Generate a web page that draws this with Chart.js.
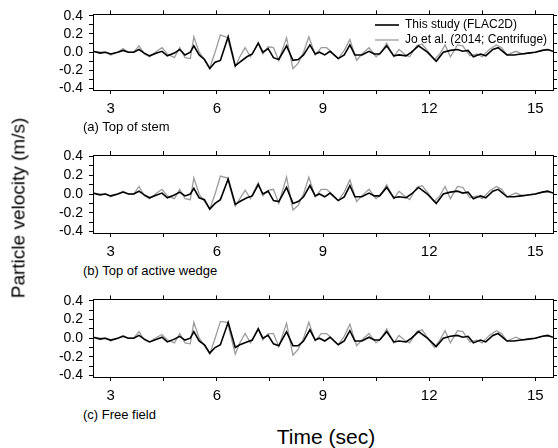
<!DOCTYPE html>
<html><head><meta charset="utf-8">
<script src="https://cdn.jsdelivr.net/npm/chart.js@4.4.0/dist/chart.umd.min.js"></script>
<style>
html,body{margin:0;padding:0;background:#fff;}
#wrap{position:relative;width:558px;height:448px;overflow:hidden;font-family:"Liberation Sans",Arial,sans-serif;color:#000;}
canvas{position:absolute;left:0;}
.lbl{position:absolute;white-space:nowrap;line-height:1;}
</style></head><body>
<div id="wrap">
<canvas id="cA" width="558" height="120" style="top:0px;width:558px;height:120px"></canvas>
<canvas id="cB" width="558" height="120" style="top:140px;width:558px;height:120px"></canvas>
<canvas id="cC" width="558" height="120" style="top:285px;width:558px;height:120px"></canvas>
<div class="lbl" style="left:83px;top:120px;font-size:13px">(a) Top of stem</div>
<div class="lbl" style="left:83px;top:264px;font-size:13px">(b) Top of active wedge</div>
<div class="lbl" style="left:83px;top:408px;font-size:13px">(c) Free field</div>
<div class="lbl" style="left:326px;top:436px;font-size:21px;transform:translate(-50%,-50%)">Time (sec)</div>
<div class="lbl" style="left:18px;top:208px;font-size:19px;transform:translate(-50%,-50%) rotate(-90deg)">Particle velocity (m/s)</div>
</div>
<script>
// ---- data ----
const seriesNames = ["This study (FLAC2D)", "Jo et al. (2014; Centrifuge)"];
const panelTitles = ["(a) Top of stem", "(b) Top of active wedge", "(c) Free field"];
const xTickVals = [3, 4.5, 6, 7.5, 9, 10.5, 12, 13.5, 15];
const xLabelVals = [3, 6, 9, 12, 15];
const yTickVals = [-0.4, -0.3, -0.2, -0.1, 0, 0.1, 0.2, 0.3, 0.4];
const yLabelVals = [-0.4, -0.2, 0, 0.2, 0.4];

const timeFlac = [2.5,2.7,2.85,3.0,3.2,3.35,3.5,3.65,3.8,3.95,4.1,4.3,4.45,4.6,4.8,4.95,5.1,5.25,5.35,5.5,5.65,5.8,5.95,6.1,6.32,6.52,6.65,6.85,7.0,7.17,7.3,7.45,7.6,7.75,7.97,8.15,8.3,8.45,8.63,8.78,8.9,9.05,9.2,9.43,9.6,9.76,9.9,10.1,10.3,10.45,10.6,10.8,11.0,11.15,11.35,11.5,11.7,11.95,12.2,12.4,12.6,12.8,12.95,13.1,13.25,13.45,13.6,13.8,13.95,14.2,14.4,14.6,14.8,15.0,15.2,15.35,15.5];
const timeJo = [2.5,2.7,2.85,3.0,3.2,3.35,3.5,3.65,3.8,3.95,4.1,4.3,4.45,4.6,4.8,4.95,5.1,5.25,5.35,5.5,5.65,5.8,5.95,6.1,6.3,6.52,6.65,6.8,6.95,7.17,7.3,7.45,7.6,7.75,7.97,8.15,8.3,8.45,8.6,8.78,8.95,9.1,9.25,9.43,9.6,9.76,9.95,10.1,10.3,10.5,10.65,10.8,11.0,11.15,11.3,11.45,11.65,11.8,12.15,12.3,12.45,12.6,12.8,12.95,13.15,13.35,13.5,13.7,13.9,14.05,14.2,14.45,14.65,14.8,15.0,15.2,15.4];

const flacA = [0.01,-0.01,0.0,-0.02,0.0, 0.02,0.0,0.0,0.03,-0.01, -0.04,-0.01,0.01,-0.04,-0.01, 0.03,-0.03,0.0,0.07,-0.03, -0.08,-0.18,-0.11,-0.09,0.17, -0.15,-0.11,-0.05,-0.02,0.10, 0.0,0.04,-0.06,-0.08,0.07, -0.09,-0.08,-0.03,0.08,-0.02, 0.0,-0.03,0.01,-0.07,-0.03, 0.08,-0.03,-0.03,0.01,-0.02, -0.02,0.07,-0.04,-0.03,-0.04, 0.0,0.07,0.0,-0.10,0.0, 0.02,0.03,0.01,0.02,-0.05, -0.02,-0.04,0.03,0.05,-0.03, -0.03,-0.02,-0.01,0.0,0.02, 0.03,0.01];
const joA = [0.01,0.0,0.0,-0.03,0.0, 0.04,0.0,0.0,0.07,-0.02, -0.05,0.01,0.05,-0.02,-0.06, 0.05,-0.06,-0.07,0.17,0.0, -0.08,-0.17,0.0,0.19,0.16, -0.16,-0.05,0.05,-0.05,0.10, -0.02,0.06,0.05,-0.09,0.16, -0.18,-0.12,0.0,0.17,-0.03, 0.05,0.05,0.0,-0.07,0.02, 0.14,-0.09,-0.02,0.05,-0.05, 0.0,0.10,-0.05,0.03,-0.02, -0.05,0.07,0.09,-0.08,-0.02, 0.08,-0.05,0.08,0.07,-0.04, -0.02,-0.05,0.03,0.08,0.05, -0.03,0.01,-0.02,-0.01,0.0, 0.02,0.02];

const flacB = [0.01,-0.01,0.0,-0.02,0.0, 0.02,0.0,0.0,0.03,-0.01, -0.04,-0.01,0.01,-0.04,-0.01, 0.02,-0.02,0.0,0.06,-0.04, -0.06,-0.16,-0.10,-0.06,0.16, -0.11,-0.08,-0.04,-0.02,0.10, 0.0,0.03,-0.07,-0.08,0.07, -0.10,-0.08,-0.03,0.09,-0.02, 0.0,-0.03,0.01,-0.07,-0.03, 0.09,-0.03,-0.03,0.01,-0.02, -0.02,0.07,-0.04,-0.03,-0.04, 0.0,0.07,0.0,-0.10,0.0, 0.02,0.03,0.01,0.02,-0.05, -0.02,-0.04,0.03,0.05,-0.03, -0.03,-0.02,-0.01,0.0,0.02, 0.03,0.01];
const joB = [0.01,0.0,0.0,-0.03,0.0, 0.03,0.0,0.0,0.08,-0.02, -0.05,0.01,0.05,-0.02,-0.05, 0.05,-0.05,-0.06,0.17,0.0, -0.08,-0.16,0.0,0.19,0.17, -0.13,-0.05,0.04,-0.05,0.12, -0.02,0.04,0.05,-0.10,0.18, -0.17,-0.12,0.0,0.18,-0.03, 0.05,0.05,0.0,-0.07,0.02, 0.15,-0.08,-0.02,0.05,-0.05, 0.0,0.10,-0.05,0.03,-0.02, -0.06,0.07,0.09,-0.08,-0.02, 0.08,-0.05,0.08,0.07,-0.04, -0.02,-0.05,0.03,0.08,0.05, -0.03,0.01,-0.02,-0.01,0.0, 0.02,0.02];

const flacC = [0.01,-0.01,0.0,-0.02,0.0, 0.02,0.0,0.0,0.03,-0.01, -0.04,-0.01,0.01,-0.04,-0.01, 0.02,-0.02,0.0,0.07,-0.03, -0.07,-0.16,-0.10,-0.07,0.17, -0.10,-0.07,-0.04,-0.02,0.10, 0.0,0.03,-0.06,-0.08,0.07, -0.08,-0.08,-0.03,0.09,-0.02, 0.0,-0.03,0.01,-0.07,-0.03, 0.08,-0.03,-0.03,0.01,-0.02, -0.02,0.07,-0.04,-0.03,-0.04, 0.0,0.07,0.0,-0.09,0.0, 0.02,0.03,0.01,0.02,-0.05, -0.02,-0.04,0.03,0.05,-0.03, -0.03,-0.02,-0.01,0.0,0.02, 0.03,0.01];
const joC = [0.01,0.0,0.0,-0.03,0.0, 0.03,0.0,0.0,0.07,-0.02, -0.04,0.01,0.04,-0.02,-0.05, 0.05,-0.05,-0.06,0.17,0.0, -0.08,-0.17,0.0,0.18,0.17, -0.17,-0.05,0.05,-0.05,0.10, -0.02,0.05,0.05,-0.09,0.16, -0.18,-0.12,0.0,0.17,-0.03, 0.05,0.05,0.0,-0.07,0.02, 0.15,-0.08,-0.02,0.05,-0.05, 0.0,0.10,-0.05,0.03,-0.02, -0.05,0.07,0.09,-0.10,-0.02, 0.08,-0.05,0.08,0.07,-0.04, -0.02,-0.05,0.03,0.08,0.05, -0.03,0.01,-0.02,-0.01,0.0, 0.02,0.02];

// ---- drawing ----
const FONT = "'Liberation Sans', Arial, sans-serif";
const legendPos = {
  id: 'legendPos',
  afterLayout(chart) {
    const lg = chart.legend;
    if (!lg || !lg.options.display) return;
    const w = lg.width;
    lg.left = 372; lg.top = 16; lg.right = lg.left + w; lg.bottom = lg.top + 200;
  }
};

function pts(t, v) { return t.map((x, i) => ({x: x, y: v[i]})); }

function makePanel(id, flac, jo, areaTop, areaBottom, H, showLegend) {
  const xFont = {family: FONT, size: 15};
  const yFont = {family: FONT, size: 14};
  const xCommon = {
    type: 'linear', min: 2.5, max: 15.5,
    afterBuildTicks: s => { s.ticks = xTickVals.map(v => ({value: v})); },
    grid: {drawOnChartArea: false, drawTicks: true, tickLength: 4, color: '#000', lineWidth: 1},
    border: {display: true, color: '#000', width: 1}
  };
  const yCommon = {
    type: 'linear', min: -0.415, max: 0.415,
    afterBuildTicks: s => { s.ticks = yTickVals.map(v => ({value: v})); },
    grid: {drawOnChartArea: false, drawTicks: true, tickLength: 4, color: '#000', lineWidth: 1},
    border: {display: true, color: '#000', width: 1}
  };
  return new Chart(document.getElementById(id), {
    type: 'line',
    data: {
      datasets: [
        {label: seriesNames[0], data: pts(timeFlac, flac), borderColor: '#000', backgroundColor: '#000', borderWidth: 1.6, pointRadius: 0, tension: 0, fill: false},
        {label: seriesNames[1], data: pts(timeJo, jo), borderColor: '#9c9c9c', backgroundColor: '#9c9c9c', borderWidth: 1.3, pointRadius: 0, tension: 0, fill: false}
      ]
    },
    options: {
      responsive: false, animation: false, devicePixelRatio: 1,
      layout: {padding: {top: areaTop - 4, left: 0, right: 0, bottom: 0}},
      scales: {
        x: Object.assign({}, xCommon, {
          position: 'bottom',
          ticks: {display: true, autoSkip: false, maxRotation: 0, padding: 6, color: '#000', font: xFont,
            callback: v => xLabelVals.some(a => Math.abs(a - v) < 1e-6) ? String(v) : ''},
          afterFit: s => { s.height = H - areaBottom; }
        }),
        x2: Object.assign({}, xCommon, {
          position: 'top',
          ticks: {display: false, autoSkip: false},
          afterFit: s => { s.height = 4; }
        }),
        y: Object.assign({}, yCommon, {
          position: 'left',
          ticks: {display: true, autoSkip: false, padding: 6, color: '#000', font: yFont,
            callback: v => yLabelVals.some(a => Math.abs(a - v) < 1e-6) ? (Math.abs(v) < 1e-9 ? '0.0' : v.toFixed(1)) : ''},
          afterFit: s => { s.width = 93; }
        }),
        y2: Object.assign({}, yCommon, {
          position: 'right',
          ticks: {display: false, autoSkip: false},
          afterFit: s => { s.width = 5; }
        })
      },
      plugins: {
        legend: {
          display: showLegend, position: 'chartArea', align: 'start',
          labels: {usePointStyle: true, pointStyle: 'line', pointStyleWidth: 24, boxHeight: 12,
            padding: 3, color: '#000', font: {family: FONT, size: 12}}
        },
        tooltip: {enabled: false},
        title: {display: false}
      }
    },
    plugins: showLegend ? [legendPos] : []
  });
}

makePanel('cA', flacA, joA, 11, 90, 120, true);
makePanel('cB', flacB, joB, 15, 93, 120, false);
makePanel('cC', flacC, joC, 11, 92, 120, false);
</script>
</body></html>
